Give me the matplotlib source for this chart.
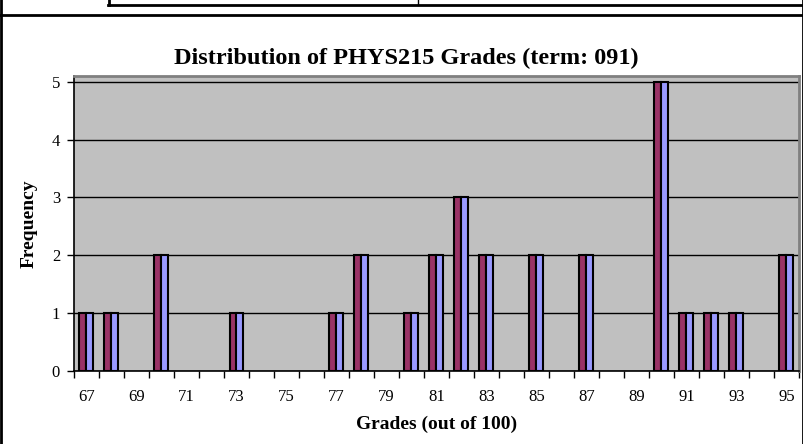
import matplotlib.pyplot as plt
from matplotlib.lines import Line2D

# grades 67..95 and the count of students per grade (two identical series)
grades = [67, 68, 69, 70, 71, 72, 73, 74, 75, 76, 77, 78, 79, 80, 81,
          82, 83, 84, 85, 86, 87, 88, 89, 90, 91, 92, 93, 94, 95]
freq_a = [1, 1, 0, 2, 0, 0, 1, 0, 0, 0, 1, 2, 0, 1, 2,
          3, 2, 0, 2, 0, 2, 0, 0, 5, 1, 1, 1, 0, 2]
freq_b = [1, 1, 0, 2, 0, 0, 1, 0, 0, 0, 1, 2, 0, 1, 2,
          3, 2, 0, 2, 0, 2, 0, 0, 5, 1, 1, 1, 0, 2]

W, H = 804, 444
fig = plt.figure(figsize=(W / 100, H / 100), dpi=100)
plt.rcParams['font.family'] = ['Liberation Serif', 'DejaVu Serif']

# plot area in pixels: x 74..799, y 76..371
ax = fig.add_axes([74 / W, (H - 371) / H, 725 / W, (371 - 76) / H])
ax.set_facecolor('#C0C0C0')

x = list(range(len(grades)))
bw = 0.28
for i in x:
    if freq_a[i] > 0:
        ax.bar(i - bw / 2, freq_a[i], width=bw, color='#993366',
               edgecolor='black', linewidth=1.5, zorder=3)
    if freq_b[i] > 0:
        ax.bar(i + bw / 2, freq_b[i], width=bw, color='#9999FF',
               edgecolor='black', linewidth=1.5, zorder=3)

ax.set_xlim(-0.5, len(grades) - 0.5)
ax.set_ylim(0, 5.1)
ax.set_yticks([0, 1, 2, 3, 4, 5])
ax.yaxis.grid(True, color='black', linewidth=1.0, zorder=1)
ax.set_axisbelow(True)

# labels every other grade, ticks on category borders
ax.set_xticks(x[::2])
ax.set_xticklabels([str(g) for g in grades[::2]], fontsize=12)
ax.set_xticks([i - 0.5 for i in range(len(grades) + 1)], minor=True)
ax.tick_params(axis='x', which='major', length=0, pad=13)
ax.tick_params(axis='x', which='minor', length=5, direction='out', width=1)
ax.tick_params(axis='y', length=5, direction='out', width=1, labelsize=12, pad=5)

for s in ['top', 'right']:
    ax.spines[s].set_color('#808080')
    ax.spines[s].set_linewidth(2)
ax.spines['left'].set_linewidth(1.2)
ax.spines['bottom'].set_linewidth(1.2)

ax.set_xlabel('Grades (out of 100)', fontsize=14, fontweight='bold', labelpad=8)
ax.set_ylabel('Frequency', fontsize=14, fontweight='bold', labelpad=10)
fig.text(406 / W, 1 - 58 / H, 'Distribution of PHYS215 Grades (term: 091)',
         ha='center', va='center', fontsize=17.5, fontweight='bold')

# surrounding frame and table fragment from the page
def px_line(xs, ys, lw):
    fig.add_artist(Line2D([v / W for v in xs], [1 - v / H for v in ys],
                          color='black', linewidth=lw))

px_line([0, W], [15, 15], 2)
px_line([1, 1], [0, H], 2)
px_line([W - 1, W - 1], [0, H], 2)
px_line([108, W], [5, 5], 2)
px_line([109, 109], [0, 5], 2)
px_line([418, 418], [0, 5], 1)

fig.savefig('out.png', dpi=100)
